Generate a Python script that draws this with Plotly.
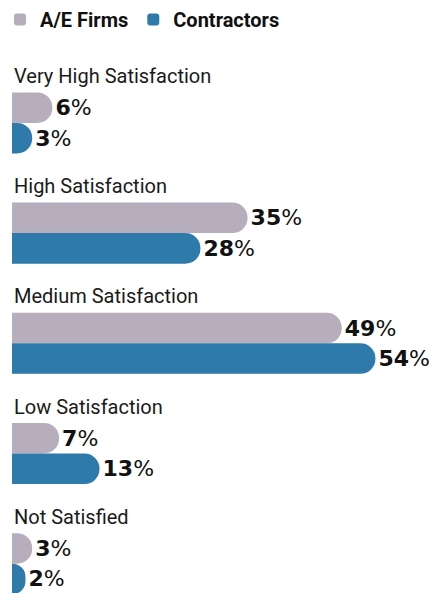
import plotly.graph_objects as go

categories = ["Very High Satisfaction", "High Satisfaction", "Medium Satisfaction",
              "Low Satisfaction", "Not Satisfied"]
ae_firms = [6, 35, 49, 7, 3]
contractors = [3, 28, 54, 13, 2]

GREY = "#B7AEBD"
BLUE = "#2E7BAB"


def pct_labels(values):
    return [f"<b>{v}</b>%" for v in values]


fig = go.Figure()
fig.add_trace(go.Bar(
    y=categories, x=ae_firms, name="A/E Firms", orientation="h",
    marker=dict(color=GREY, cornerradius="50%", line=dict(width=0)),
    text=pct_labels(ae_firms), textposition="outside", cliponaxis=False,
    textfont=dict(family="DejaVu Sans", size=22, color="#111111"),
))
fig.add_trace(go.Bar(
    y=categories, x=contractors, name="Contractors", orientation="h",
    marker=dict(color=BLUE, cornerradius="50%", line=dict(width=0)),
    text=pct_labels(contractors), textposition="outside", cliponaxis=False,
    textfont=dict(family="DejaVu Sans", size=22, color="#111111"),
))

# category names sit above each pair of bars
for cat in categories:
    fig.add_annotation(
        x=0, y=cat, xref="x", yref="y", text=cat, showarrow=False,
        xanchor="left", yanchor="bottom", yshift=33,
        font=dict(family="Roboto", size=20, color="#1a1a1a"),
    )

fig.update_layout(
    width=434, height=593,
    margin=dict(l=12, r=0, t=60, b=0, autoexpand=False),
    barmode="group", bargap=0.446, bargroupgap=0,
    paper_bgcolor="white", plot_bgcolor="white",
    showlegend=True,
    legend=dict(
        orientation="h", xref="container", yref="container",
        x=0, y=1, xanchor="left", yanchor="top",
        font=dict(family="Roboto", size=20, color="#111111", weight="bold"),
        traceorder="normal",
    ),
)
fig.update_xaxes(range=[0, 62.7], visible=False, fixedrange=True)
fig.update_yaxes(type="category", range=[4.266, -0.571], visible=False, fixedrange=True)

# drop the page's default body margin so the figure sits at the window's corner
fig.write_html("out.html", config={"displayModeBar": False},
               post_script="document.body.style.margin = '0px';")
